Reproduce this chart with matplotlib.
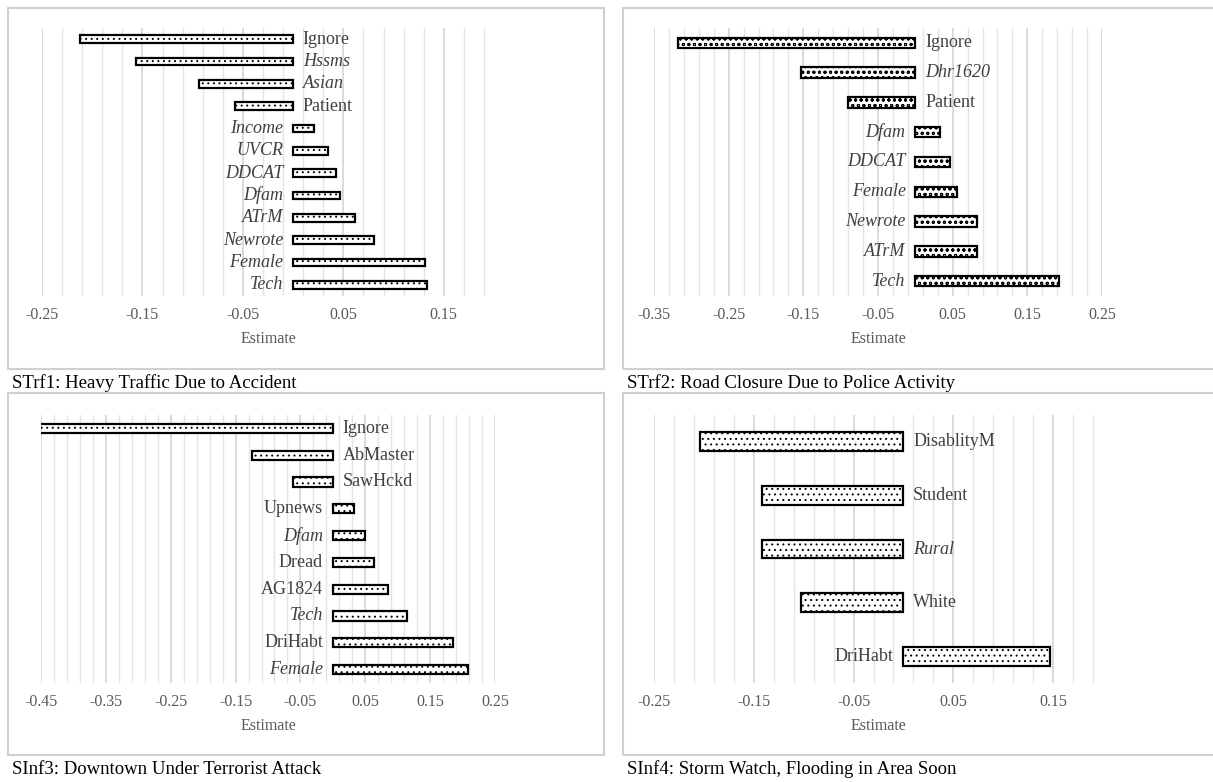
import numpy as np
import matplotlib
matplotlib.use('Agg')
import matplotlib.pyplot as plt
from matplotlib.patches import Rectangle

plt.rcParams['font.family'] = ['Liberation Serif', 'DejaVu Serif']
plt.rcParams['hatch.linewidth'] = 0.7

W, H = 1213, 782

# STrf1: Heavy Traffic Due to Accident
vars1 = ['Ignore', 'Hssms', 'Asian', 'Patient', 'Income', 'UVCR', 'DDCAT',
         'Dfam', 'ATrM', 'Newrote', 'Female', 'Tech']
est1 = [-0.212, -0.156, -0.094, -0.058, 0.021, 0.035, 0.043, 0.047,
        0.062, 0.081, 0.131, 0.133]
ital1 = [False, True, True, False, True, True, True, True, True, True, True, True]

# STrf2: Road Closure Due to Police Activity
vars2 = ['Ignore', 'Dhr1620', 'Patient', 'Dfam', 'DDCAT', 'Female',
         'Newrote', 'ATrM', 'Tech']
est2 = [-0.318, -0.153, -0.090, 0.033, 0.046, 0.056, 0.083, 0.083, 0.193]
ital2 = [False, True, False, True, True, True, True, True, True]

# SInf3: Downtown Under Terrorist Attack
vars3 = ['Ignore', 'AbMaster', 'SawHckd', 'Upnews', 'Dfam', 'Dread',
         'AG1824', 'Tech', 'DriHabt', 'Female']
est3 = [-0.452, -0.124, -0.061, 0.033, 0.049, 0.064, 0.085, 0.115,
        0.186, 0.209]
ital3 = [False, False, False, False, True, False, False, True, False, True]

# SInf4: Storm Watch, Flooding in Area Soon
vars4 = ['DisablityM', 'Student', 'Rural', 'White', 'DriHabt']
est4 = [-0.204, -0.142, -0.142, -0.103, 0.147]
ital4 = [False, False, True, False, False]

fig = plt.figure(figsize=(W / 100, H / 100), dpi=100)


def px_axes(x0, y0, x1, y1):
    return fig.add_axes([x0 / W, 1 - y1 / H, (x1 - x0) / W, (y1 - y0) / H])


def frame(x0, y0, x1, y1, title):
    fig.patches.append(Rectangle((x0 / W, 1 - y1 / H), (x1 - x0) / W, (y1 - y0) / H,
                                 transform=fig.transFigure, fill=False,
                                 edgecolor='#d0d0d0', linewidth=1.5))
    fig.text(x0 / W + 4 / W, 1 - (y1 + 14) / H, title, fontsize=13.5,
             color='black', va='center', ha='left')


def panel(ax, names, vals, italic, xmin, xmax, hatch):
    y = np.arange(len(names))
    ax.barh(y, vals, height=0.35, color='white', edgecolor='black',
            linewidth=1.6, hatch=hatch, zorder=3)
    ax.set_ylim(len(names) - 0.5, -0.5)
    ax.set_xlim(xmin, xmax)
    major = np.arange(xmin, xmax + 1e-6, 0.1)
    ax.set_xticks(major)
    ax.set_xticklabels(['%.2f' % t for t in major])
    ax.set_xticks(np.arange(xmin, xmax + 1e-6, 0.02), minor=True)
    ax.grid(axis='x', which='major', color='#d4d4d4', linewidth=1.2, zorder=0)
    ax.grid(axis='x', which='minor', color='#e4e4e4', linewidth=1.0, zorder=0)
    ax.set_yticks([])
    ax.tick_params(axis='x', which='both', length=0, pad=8,
                   labelsize=11.5, labelcolor='#595959')
    for s in ax.spines.values():
        s.set_visible(False)
    ax.set_xlabel('Estimate', fontsize=11.5, color='#595959', labelpad=6)
    for yi, v, n, it in zip(y, vals, names, italic):
        if v < 0:
            off, ha = 7, 'left'
        else:
            off, ha = -7, 'right'
        ax.annotate(n, (0, yi), xytext=(off, 0), textcoords='offset points',
                    ha=ha, va='center', fontsize=13, color='#404040',
                    style='italic' if it else 'normal', zorder=4)


frame(8, 8, 604, 369, 'STrf1: Heavy Traffic Due to Accident')
frame(623, 8, 1220, 369, 'STrf2: Road Closure Due to Police Activity')
frame(8, 393, 604, 755, 'SInf3: Downtown Under Terrorist Attack')
frame(623, 393, 1220, 755, 'SInf4: Storm Watch, Flooding in Area Soon')

ax1 = px_axes(42, 28, 494, 296)
panel(ax1, vars1, est1, ital1, -0.25, 0.20, '...')

ax2 = px_axes(654, 28, 1102, 296)
panel(ax2, vars2, est2, ital2, -0.35, 0.25, 'ooo')

ax3 = px_axes(41, 415, 495, 683)
panel(ax3, vars3, est3, ital3, -0.45, 0.25, '...')

ax4 = px_axes(654, 415, 1103, 683)
panel(ax4, vars4, est4, ital4, -0.25, 0.20, '...')

fig.savefig('out.png', dpi=100)
